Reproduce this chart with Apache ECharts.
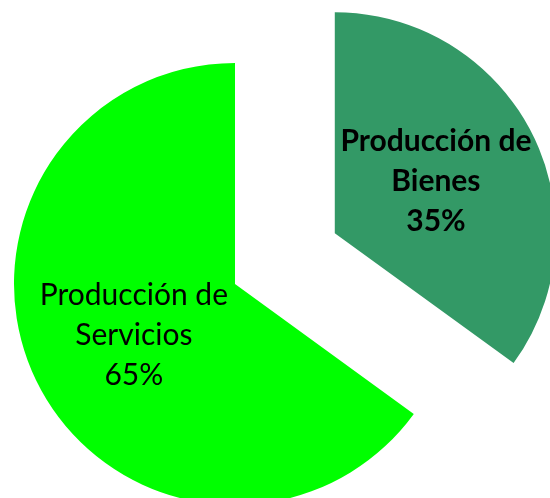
<!DOCTYPE html>
<html>
<head>
<meta charset="utf-8">
<script src="https://cdn.jsdelivr.net/npm/echarts@6/dist/echarts.min.js"></script>
<style>
  html, body { margin: 0; padding: 0; background: #fff; }
  #chart { width: 550px; height: 498px; }
</style>
</head>
<body>
<div id="chart"></div>
<script>
// datos del gráfico
const categories = ['Producción de\nBienes', 'Producción de\nServicios']
const values = [35, 65]
const colors = ['#339966', '#00FF00']
const bold = ['bold', 'normal']

const chart = echarts.init(document.getElementById('chart'))

const option = {
  animation: false,
  series: [
    {
      type: 'pie',
      center: [235, 284],
      radius: 221,
      startAngle: 90,
      clockwise: true,
      selectedMode: 'single',
      selectedOffset: 112,
      silent: true,
      emphasis: { disabled: true },
      label: {
        position: 'inside',
        color: '#000',
        fontFamily: 'Lato',
        fontSize: 30,
        lineHeight: 40,
        formatter: p => p.name + '\n' + p.value + '%'
      },
      labelLine: { show: false },
      data: categories.map((c, i) => ({
        name: c,
        value: values[i],
        selected: i === 0,
        itemStyle: { color: colors[i] },
        label: { fontWeight: bold[i] }
      }))
    }
  ]
}

chart.setOption(option)
</script>
</body>
</html>
